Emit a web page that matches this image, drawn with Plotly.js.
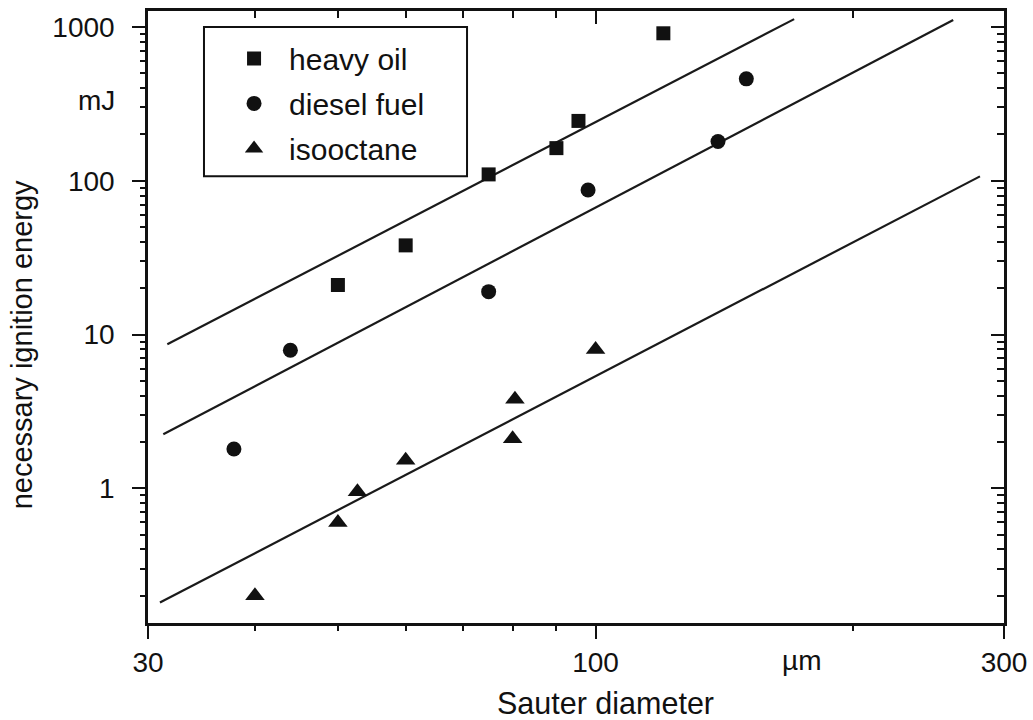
<!DOCTYPE html>
<html>
<head>
<meta charset="utf-8">
<script src="https://cdn.plot.ly/plotly-3.0.1.min.js"></script>
<style>
  html, body { margin: 0; padding: 0; background: #ffffff; }
  #chart { width: 1033px; height: 720px; }
</style>
</head>
<body>
<div id="chart"></div>
<script>
// ---- data ----
var seriesNames = ["heavy oil", "diesel fuel", "isooctane"];

var heavyOilX = [50, 60, 75, 90, 95.5, 120];
var heavyOilY = [21, 38, 110, 163, 245, 910];

var dieselX = [37.8, 44, 75, 98, 139, 150];
var dieselY = [1.8, 7.9, 19, 87, 180, 460];

var isooctaneX = [40, 50, 52.7, 60, 80, 80.5, 100];
var isooctaneY = [0.2, 0.6, 0.95, 1.52, 2.1, 3.8, 8.0];

// fitted straight lines (end points)
var fitHeavyX = [31.6, 170.6];
var fitHeavyY = [8.64, 1125];
var fitDieselX = [31.26, 261.7];
var fitDieselY = [2.244, 1109];
var fitIsoX = [30.98, 281.2];
var fitIsoY = [0.1806, 106.8];

// tick labels
var xTickVals = [30, 100, 300];
var xTickText = ["30", "100", "300"];
var xMinorVals = [40, 50, 60, 70, 80, 90, 200];
var yTickVals = [1, 10, 100, 1000];
var yTickText = ["1", "10", "100", "1000"];

// ---- styling ----
var FONT = "Liberation Sans, Arial, Helvetica, sans-serif";
var INK = "#111111";
var FS = 28;

var yMinorVals = [];
[0.1, 1, 10, 100].forEach(function (d) {
  for (var k = 2; k <= 9; k++) yMinorVals.push(+(k * d).toPrecision(3));
});

var xRange = [Math.log10(30), Math.log10(300)];
var yRange = [-0.876, 3.104];

function markerTrace(x, y, name, symbol, size, group) {
  return {
    x: x, y: y, name: name, type: "scatter", mode: "markers",
    legendgroup: group,
    marker: { symbol: symbol, size: size, color: INK, line: { width: 0 } },
    hoverinfo: "x+y+name"
  };
}
function lineTrace(x, y) {
  return {
    x: x, y: y, type: "scatter", mode: "lines", showlegend: false,
    line: { color: "#1a1a1a", width: 2.2 }, hoverinfo: "skip"
  };
}
function axisHolder(xa, ya) {
  return { x: [], y: [], type: "scatter", mode: "markers", xaxis: xa, yaxis: ya,
           showlegend: false, hoverinfo: "skip" };
}

var traces = [
  lineTrace(fitHeavyX, fitHeavyY),
  lineTrace(fitDieselX, fitDieselY),
  lineTrace(fitIsoX, fitIsoY),
  markerTrace(heavyOilX, heavyOilY, seriesNames[0], "square", 14, "g1"),
  markerTrace(dieselX, dieselY, seriesNames[1], "circle", 15, "g2"),
  markerTrace(isooctaneX, isooctaneY, seriesNames[2], "triangle-up", 17, "g3"),
  // empty traces that hold the mirrored / minor-tick axes
  axisHolder("x2", "y2"),
  axisHolder("x3", "y3"),
  axisHolder("x4", "y4")
];

function ax(extra) {
  return Object.assign({
    type: "log", showgrid: false, zeroline: false,
    showline: true, linecolor: INK, linewidth: 2.5,
    tickcolor: INK, tickwidth: 2, ticklen: 13,
    tickmode: "array",
    tickfont: { family: FONT, size: FS, color: INK }
  }, extra);
}

var layout = {
  width: 1033, height: 720,
  margin: { l: 148, r: 29, t: 11, b: 97, pad: 0 },
  paper_bgcolor: "#ffffff", plot_bgcolor: "#ffffff",
  font: { family: FONT, size: FS, color: INK },
  showlegend: true,
  // major ticks, bottom / left (outside, labelled)
  xaxis: ax({ range: xRange, ticks: "outside", tickvals: xTickVals, ticktext: xTickText,
              ticklabelstandoff: 0 }),
  yaxis: ax({ range: yRange, ticks: "outside", tickvals: yTickVals, ticktext: yTickText,
              ticklabelstandoff: 12 }),
  // major ticks, top / right (inside)
  xaxis2: ax({ overlaying: "x", side: "top", anchor: "y2", range: xRange,
               ticks: "inside", showticklabels: false, tickvals: xTickVals }),
  yaxis2: ax({ overlaying: "y", side: "right", anchor: "x2", range: yRange,
               ticks: "inside", showticklabels: false, tickvals: yTickVals }),
  // minor ticks, bottom / left (outside)
  xaxis3: ax({ overlaying: "x", side: "bottom", anchor: "y3", range: xRange,
               ticks: "outside", ticklen: 7, showticklabels: false, showline: false,
               tickvals: xMinorVals }),
  yaxis3: ax({ overlaying: "y", side: "left", anchor: "x3", range: yRange,
               ticks: "outside", ticklen: 7, showticklabels: false, showline: false,
               tickvals: yMinorVals }),
  // minor ticks, top / right (inside)
  xaxis4: ax({ overlaying: "x", side: "top", anchor: "y4", range: xRange,
               ticks: "inside", ticklen: 7, showticklabels: false, showline: false,
               tickvals: xMinorVals }),
  yaxis4: ax({ overlaying: "y", side: "right", anchor: "x4", range: yRange,
               ticks: "inside", ticklen: 7, showticklabels: false, showline: false,
               tickvals: yMinorVals }),
  legend: {
    x: 0.083, y: 0.965, xanchor: "left", yanchor: "top",
    bgcolor: "rgba(0,0,0,0)", borderwidth: 0,
    traceorder: "grouped", tracegroupgap: 3, itemwidth: 60,
    font: { family: FONT, size: 30, color: INK }
  },
  shapes: [
    { type: "rect", xref: "paper", yref: "paper",
      x0: 0.0654, x1: 0.3727, y0: 0.730, y1: 0.9739,
      line: { color: INK, width: 2 }, fillcolor: "rgba(0,0,0,0)" }
  ],
  annotations: [
    { text: "mJ", xref: "paper", yref: "paper",
      x: (96 - 148) / 856, y: (622.7 - 100) / 612,
      xanchor: "center", yanchor: "middle", showarrow: false,
      font: { family: FONT, size: FS, color: INK } },
    { text: "µm", xref: "paper", yref: "paper",
      x: (801 - 148) / 856, y: (622.7 - 660) / 612,
      xanchor: "center", yanchor: "middle", showarrow: false,
      font: { family: FONT, size: FS, color: INK } },
    { text: "necessary ignition energy", xref: "paper", yref: "paper",
      x: (22 - 148) / 856, y: (622.7 - 345) / 612, textangle: -90,
      xanchor: "center", yanchor: "middle", showarrow: false,
      font: { family: FONT, size: 29, color: INK } },
    { text: "Sauter diameter", xref: "paper", yref: "paper",
      x: (605 - 148) / 856, y: (622.7 - 703) / 612,
      xanchor: "center", yanchor: "middle", showarrow: false,
      font: { family: FONT, size: 30.5, color: INK } }
  ]
};

Plotly.newPlot("chart", traces, layout, { displayModeBar: false });
</script>
</body>
</html>
